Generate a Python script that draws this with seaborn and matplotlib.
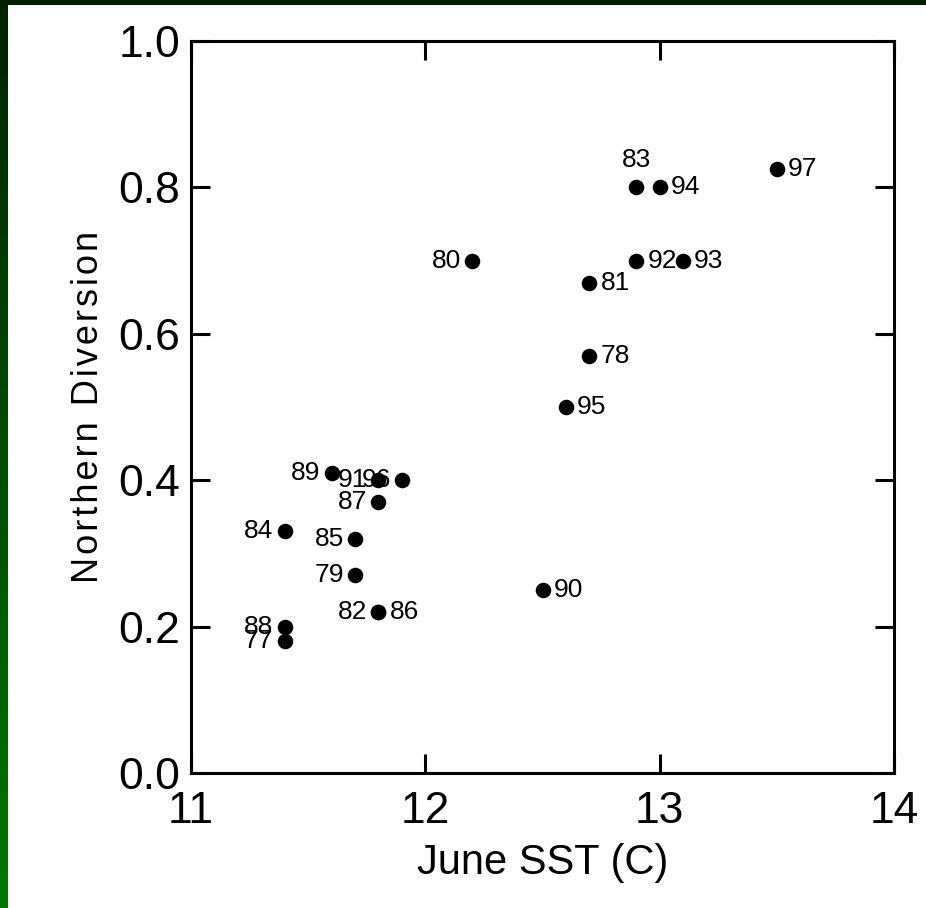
import numpy as np
import pandas as pd
import matplotlib
matplotlib.use("Agg")
import matplotlib.pyplot as plt
import seaborn as sns

# Data
years = ["97", "83", "94", "80", "92", "93", "81", "78", "95", "89", "91", "96",
         "87", "84", "85", "79", "82", "86", "90", "88", "77"]
sst = [13.5, 12.9, 13.0, 12.2, 12.9, 13.1, 12.7, 12.7, 12.6, 11.6, 11.8, 11.9,
       11.8, 11.4, 11.7, 11.7, 11.8, 11.8, 12.5, 11.4, 11.4]
diversion = [0.825, 0.80, 0.80, 0.70, 0.70, 0.70, 0.67, 0.57, 0.50, 0.41, 0.40, 0.40,
             0.37, 0.33, 0.32, 0.27, 0.22, 0.22, 0.25, 0.20, 0.18]
label_side = ["r", "t", "r", "l", "r", "r", "r", "r", "r", "l", "l", "l",
              "l", "l", "l", "l", "l", "r", "r", "l", "l"]

x_ticks = [11, 12, 13, 14]
y_ticks = [0.0, 0.2, 0.4, 0.6, 0.8, 1.0]

df = pd.DataFrame({"year": years, "sst": sst, "div": diversion, "side": label_side})

sns.set_theme(style="white")
plt.rcParams["font.family"] = ["Liberation Sans", "DejaVu Sans"]

W, H = 926, 908
fig = plt.figure(figsize=(W / 100, H / 100), dpi=100)
fig.patch.set_facecolor("white")

# Green decorative bands
bg = fig.add_axes([0, 0, 1, 1], zorder=-10)
bg.set_axis_off()
bg.set_xlim(0, W)
bg.set_ylim(H, 0)
grad = np.linspace(0, 1, 256).reshape(-1, 1)
cmap = matplotlib.colors.LinearSegmentedColormap.from_list("g", ["#002200", "#007800"])
bg.imshow(grad, cmap=cmap, extent=[0, 8, H, 0], aspect="auto")
bg.add_patch(plt.Rectangle((0, 0), W, 5, color="#001e00", lw=0))

ax = fig.add_axes([191 / W, 1 - 773 / H, (894 - 191) / W, (773 - 41) / H])
ax.set_facecolor("none")

sns.scatterplot(data=df, x="sst", y="div", ax=ax, color="black", s=125,
                edgecolor="black", linewidth=0, legend=False, zorder=3)

fs = 19
for _, r in df.iterrows():
    if r["side"] == "r":
        ax.annotate(r["year"], (r["sst"], r["div"]), xytext=(8, 0), textcoords="offset points",
                    ha="left", va="center", fontsize=fs, color="black")
    elif r["side"] == "l":
        ax.annotate(r["year"], (r["sst"], r["div"]), xytext=(-8, 0), textcoords="offset points",
                    ha="right", va="center", fontsize=fs, color="black")
    else:
        ax.annotate(r["year"], (r["sst"], r["div"]), xytext=(0, 11), textcoords="offset points",
                    ha="center", va="bottom", fontsize=fs, color="black")

ax.set_xlim(11, 14)
ax.set_ylim(0, 1)
ax.set_xticks(x_ticks)
ax.set_yticks(y_ticks)
ax.set_xticklabels([str(v) for v in x_ticks])
ax.set_yticklabels([f"{v:.1f}" for v in y_ticks])

for s in ax.spines.values():
    s.set_visible(True)
    s.set_color("black")
    s.set_linewidth(2.2)

ax.tick_params(axis="both", which="both", direction="in", length=14, width=2.2,
               color="black", labelsize=32, labelcolor="black",
               top=True, right=True, bottom=True, left=True)
ax.tick_params(axis="x", pad=13)
ax.tick_params(axis="y", pad=8)

ax.set_xlabel("June SST (C)", fontsize=30, color="black", labelpad=8)
hs = "\u200a"
ylab = hs.join(list("Northern Diversion"))
ax.set_ylabel(ylab, fontsize=26, color="black", labelpad=9)

fig.savefig("out.png", dpi=100)
